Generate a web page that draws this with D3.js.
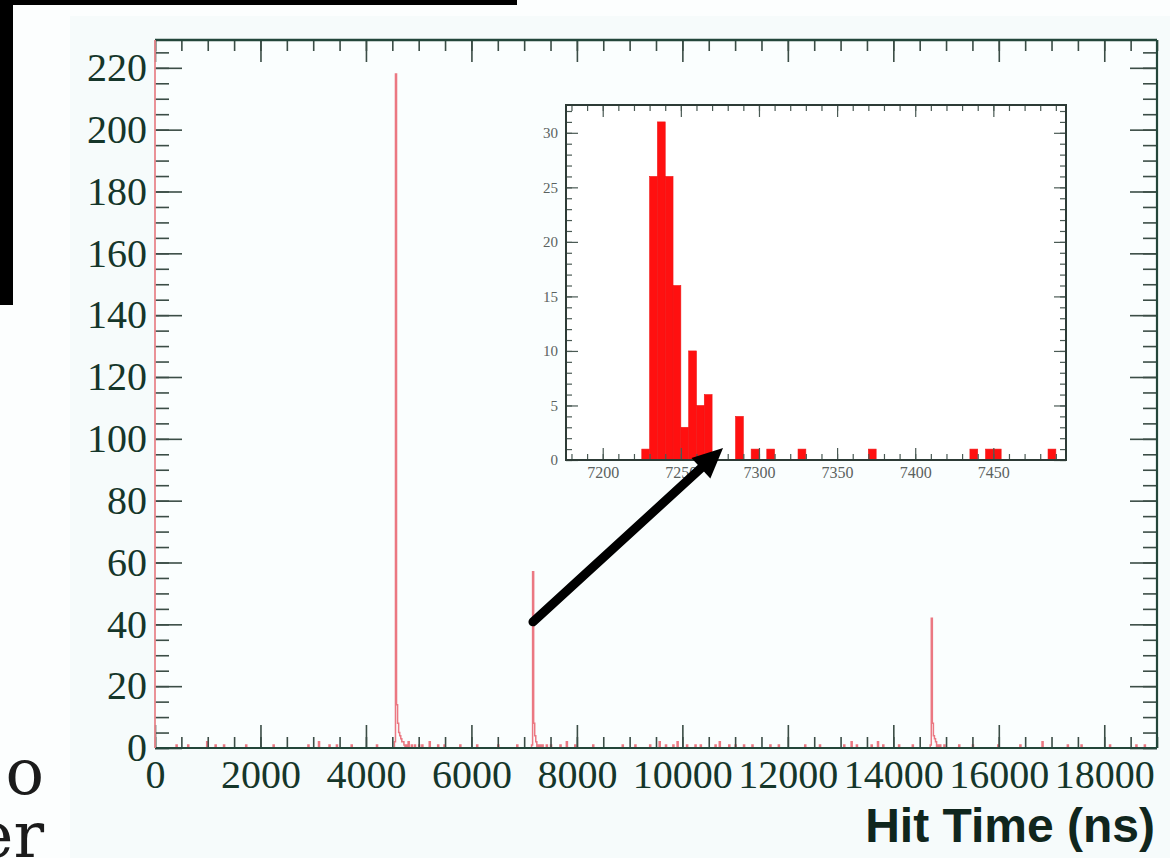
<!DOCTYPE html>
<html><head><meta charset="utf-8">
<script src="https://cdn.jsdelivr.net/npm/d3@7"></script>
<style>html,body{margin:0;padding:0;background:#fcfefe;overflow:hidden}</style>
</head><body><svg id="c" width="1170" height="858"></svg>
<script>
// ---------- data ----------
const mainBinWidth = 20; // ns
const mainBinStart = [400,620,980,1140,1300,1720,2240,2900,3100,3300,3440,3720,4200,
  4540,4560,4580,4600,4620,4640,4660,4680,4700,4720,4760,4800,4860,4920,5000,5060,5200,5360,5480,5780,6100,6500,6860,
  7140,7160,7180,7200,7220,7260,7300,7340,7420,7500,7680,7800,7960,8300,8860,9100,9380,9560,9680,9820,9900,10080,10240,10330,
  10620,10700,10880,11000,11150,11320,11660,11810,12320,12600,13060,13200,13290,13580,13700,13800,14100,14360,
  14700,14720,14740,14760,14780,14800,14840,14880,14960,15240,15500,15980,16400,16820,17300,17560,18100,18600,18750];
const mainCounts = [1,1,2,1,1,1,1,1,2,1,1,1,1,
  2,218,14,8,5,4,3,2,2,1,1,2,1,1,1,1,2,1,1,1,1,1,1,
  1,57,8,4,2,1,1,1,1,1,1,2,1,1,1,1,1,2,1,1,2,1,1,1,
  1,2,1,1,1,1,1,1,1,1,1,2,1,1,2,1,1,1,
  1,42,8,4,3,2,1,1,1,1,1,1,1,2,1,1,1,1,1];

const insetBinWidth = 5; // ns
const insetBinStart = [7225,7230,7235,7240,7245,7250,7255,7260,7265,7285,7295,7305,7325,7370,7435,7445,7450,7485];
const insetCounts   = [1,26,31,26,16,3,10,5,6,4,1,1,1,1,1,1,1,1];

const xTickValues = [0,2000,4000,6000,8000,10000,12000,14000,16000,18000];
const yTickValues = [0,20,40,60,80,100,120,140,160,180,200,220];
const insetXTickValues = [7200,7250,7300,7350,7400,7450];
const insetYTickValues = [0,5,10,15,20,25,30];
const xAxisTitle = "Hit Time (ns)";

// ---------- scales ----------
const svg = d3.select("#c");
const x = d3.scaleLinear().domain([0, 19000]).range([155, 1157]);
const y = d3.scaleLinear().domain([0, 229]).range([748, 40]);
const xi = d3.scaleLinear().domain([7176.5, 7496.5]).range([566, 1066]);
const yi = d3.scaleLinear().domain([0, 32.55]).range([460, 105]);

const txtCol = "#15362a", tickCol = "#3b4d46", frameCol = "#23463a";

// backgrounds
svg.append("rect").attr("x",70).attr("y",16).attr("width",1100).attr("height",842).attr("fill","#f6fbfb");
svg.append("rect").attr("x",x.range()[0]).attr("y",y.range()[1])
  .attr("width",x.range()[1]-x.range()[0]).attr("height",y.range()[0]-y.range()[1]).attr("fill","#fafefe");

// black box of the slide
svg.append("rect").attr("x",0).attr("y",0).attr("width",517).attr("height",5).attr("fill","#000");
svg.append("rect").attr("x",0).attr("y",0).attr("width",13).attr("height",305).attr("fill","#000");

// cropped slide text
svg.append("text").attr("x",44).attr("y",794).attr("text-anchor","end")
  .attr("font-family","DejaVu Serif").attr("font-size",64).attr("fill","#1b1b1b").text("o");
svg.append("text").attr("x",44).attr("y",857).attr("text-anchor","end")
  .attr("font-family","DejaVu Serif").attr("font-size",64).attr("fill","#1b1b1b").text("er");

// ---------- main histogram (outline) ----------
const nb = Math.round(19000 / mainBinWidth);
const dense = new Array(nb).fill(0);
mainBinStart.forEach((s,i)=>{ dense[Math.round(s/mainBinWidth)] = mainCounts[i]; });
const pts = [[0,0]];
dense.forEach((c,i)=>{ pts.push([i*mainBinWidth, c]); pts.push([(i+1)*mainBinWidth, c]); });
pts.push([19000,0]);
svg.append("path").datum(pts)
  .attr("d", d3.line().x(d=>x(d[0])).y(d=>y(d[1])))
  .attr("fill","none").attr("stroke","#e8606c").attr("stroke-width",1.5).attr("stroke-opacity",0.85);

// ---------- main axes ----------
function minorVals(step, lo, hi){ const a=[]; for(let v=lo; v<=hi+1e-9; v+=step) a.push(+v.toFixed(6)); return a; }
const xMinor = minorVals(500, 0, 19000);
const yMinor = minorVals(5, 0, 225);

function styleAxis(g){ g.select(".domain").remove(); g.selectAll("line").attr("stroke",tickCol).attr("stroke-width",1.6); }

// bottom
svg.append("g").attr("transform","translate(0,748)")
  .call(d3.axisBottom(x).tickValues(xMinor).tickSize(-11).tickFormat("")).call(styleAxis);
const gb = svg.append("g").attr("transform","translate(0,748)")
  .call(d3.axisBottom(x).tickValues(xTickValues).tickSize(-23).tickPadding(12).tickFormat(d3.format("d")));
styleAxis(gb);
gb.selectAll("text").attr("font-family","Liberation Serif").attr("font-size",40).attr("fill",txtCol);
// top
svg.append("g").attr("transform","translate(0,40)")
  .call(d3.axisTop(x).tickValues(xMinor).tickSize(-11).tickFormat("")).call(styleAxis);
svg.append("g").attr("transform","translate(0,40)")
  .call(d3.axisTop(x).tickValues(xTickValues).tickSize(-22).tickFormat("")).call(styleAxis);
// left
svg.append("g").attr("transform","translate(155,0)")
  .call(d3.axisLeft(y).tickValues(yMinor).tickSize(-14).tickFormat("")).call(styleAxis);
const gl = svg.append("g").attr("transform","translate(155,0)")
  .call(d3.axisLeft(y).tickValues(yTickValues).tickSize(-27).tickPadding(8).tickFormat(d3.format("d")));
styleAxis(gl);
gl.selectAll("text").attr("font-family","Liberation Serif").attr("font-size",40).attr("fill",txtCol);
// right
svg.append("g").attr("transform","translate(1157,0)")
  .call(d3.axisRight(y).tickValues(yMinor).tickSize(-14).tickFormat("")).call(styleAxis);
svg.append("g").attr("transform","translate(1157,0)")
  .call(d3.axisRight(y).tickValues(yTickValues).tickSize(-27).tickFormat("")).call(styleAxis);

// frame
svg.append("line").attr("x1",155).attr("x2",1157).attr("y1",40).attr("y2",40).attr("stroke",frameCol).attr("stroke-width",2.5);
svg.append("line").attr("x1",155).attr("x2",1157).attr("y1",748).attr("y2",748).attr("stroke",frameCol).attr("stroke-width",2.2);
svg.append("line").attr("x1",1157).attr("x2",1157).attr("y1",40).attr("y2",748).attr("stroke",frameCol).attr("stroke-width",2.2);
svg.append("line").attr("x1",155).attr("x2",155).attr("y1",40).attr("y2",748).attr("stroke","#e8868c").attr("stroke-width",1.8);

// title
svg.append("text").attr("x",1155).attr("y",842).attr("text-anchor","end")
  .attr("font-family","Liberation Sans").attr("font-weight","bold").attr("font-size",48).attr("fill","#10261d")
  .text(xAxisTitle);

// ---------- inset ----------
const ig = svg.append("g");
ig.append("rect").attr("x",566).attr("y",105).attr("width",500).attr("height",355).attr("fill","#fff");
ig.selectAll("rect.bar").data(insetBinStart.map((s,i)=>({s, c:insetCounts[i]}))).enter()
  .append("rect").attr("class","bar")
  .attr("x",d=>xi(d.s)).attr("width",d=>xi(d.s+insetBinWidth)-xi(d.s))
  .attr("y",d=>yi(d.c)).attr("height",d=>yi(0)-yi(d.c))
  .attr("fill","#ff1010").attr("stroke","#f01818").attr("stroke-width",0.6);

const iTick = "#4a5a54";
function styleI(g){ g.select(".domain").remove(); g.selectAll("line").attr("stroke",iTick).attr("stroke-width",1.2); }
const ixMinor = minorVals(10, 7180, 7490);
const iyMinor = minorVals(1, 0, 32);
ig.append("g").attr("transform","translate(0,460)").call(d3.axisBottom(xi).tickValues(ixMinor).tickSize(-6).tickFormat("")).call(styleI);
const gib = ig.append("g").attr("transform","translate(0,460)")
  .call(d3.axisBottom(xi).tickValues(insetXTickValues).tickSize(-12).tickPadding(7).tickFormat(d3.format("d")));
styleI(gib);
gib.selectAll("text").attr("font-family","Liberation Serif").attr("font-size",16).attr("fill","#5a625f");
ig.append("g").attr("transform","translate(0,105)").call(d3.axisTop(xi).tickValues(ixMinor).tickSize(-6).tickFormat("")).call(styleI);
ig.append("g").attr("transform","translate(0,105)").call(d3.axisTop(xi).tickValues(insetXTickValues).tickSize(-12).tickFormat("")).call(styleI);
ig.append("g").attr("transform","translate(566,0)").call(d3.axisLeft(yi).tickValues(iyMinor).tickSize(-6).tickFormat("")).call(styleI);
const gil = ig.append("g").attr("transform","translate(566,0)")
  .call(d3.axisLeft(yi).tickValues(insetYTickValues).tickSize(-12).tickPadding(8).tickFormat(d3.format("d")));
styleI(gil);
gil.selectAll("text").attr("font-family","Liberation Serif").attr("font-size",15).attr("fill","#5a625f");
ig.append("g").attr("transform","translate(1066,0)").call(d3.axisRight(yi).tickValues(iyMinor).tickSize(-6).tickFormat("")).call(styleI);
ig.append("g").attr("transform","translate(1066,0)").call(d3.axisRight(yi).tickValues(insetYTickValues).tickSize(-12).tickFormat("")).call(styleI);
ig.append("rect").attr("x",566).attr("y",105).attr("width",500).attr("height",355)
  .attr("fill","none").attr("stroke","#2d3b36").attr("stroke-width",2);

// ---------- arrow (from main peak at 7.2 us to the inset) ----------
const p0 = [x(7167), y(40.8)];
const p1 = [xi(7277), yi(1.1)];
const dx = p1[0]-p0[0], dy = p1[1]-p0[1], L = Math.hypot(dx,dy), ux = dx/L, uy = dy/L;
const headL = 30, headW = 14;
const base = [p1[0]-ux*headL, p1[1]-uy*headL];
svg.append("line").attr("x1",p0[0]).attr("y1",p0[1]).attr("x2",base[0]+ux*2).attr("y2",base[1]+uy*2)
  .attr("stroke","#000").attr("stroke-width",9).attr("stroke-linecap","round");
svg.append("polygon").attr("points",[
  p1, [base[0]-uy*headW, base[1]+ux*headW], [base[0]+uy*headW, base[1]-ux*headW]
].map(p=>p.join(",")).join(" ")).attr("fill","#000");
</script></body></html>
